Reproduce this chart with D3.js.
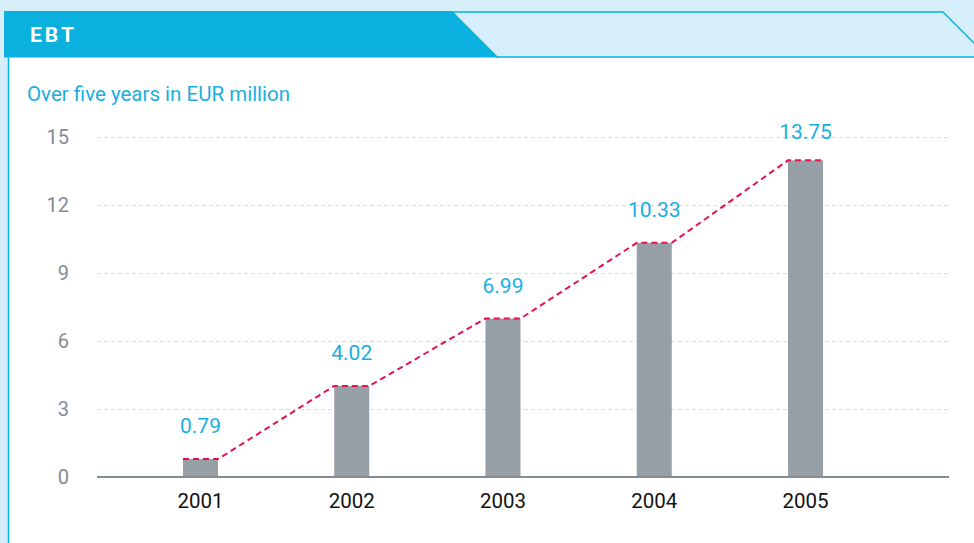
<!DOCTYPE html>
<html>
<head>
<meta charset="utf-8">
<script src="https://cdn.jsdelivr.net/npm/d3@7"></script>
<style>
  body { margin: 0; background: #d5eef9; }
  svg { display: block; font-family: Roboto, "Noto Sans", sans-serif; }
</style>
</head>
<body>
<svg id="chart" width="974" height="543"></svg>
<script>
// EBT over five years, EUR million
var years = ["2001", "2002", "2003", "2004", "2005"];
var ebt = [0.79, 4.02, 6.99, 10.33, 13.75];
// bar heights as drawn in the source (last bar is drawn a bit taller than its label)
var barHeights = [0.79, 4.02, 6.99, 10.33, 13.97];
var yTicks = [0, 3, 6, 9, 12, 15];

var svg = d3.select("#chart"),
    width = +svg.attr("width"),
    height = +svg.attr("height");

var blue = "#0ab0de";

// panel background
svg.append("rect")
    .attr("x", 0).attr("y", 0)
    .attr("width", width).attr("height", height)
    .attr("fill", "#d5eef9");
svg.append("rect")
    .attr("x", 9).attr("y", 57)
    .attr("width", width - 9).attr("height", height - 57)
    .attr("fill", "#fff");
svg.append("line")
    .attr("x1", 8.5).attr("x2", 8.5)
    .attr("y1", 57).attr("y2", height)
    .attr("stroke", blue).attr("stroke-width", 1.5);

// header tab
svg.append("path")
    .attr("d", "M943,12 L988,57 L497,57 L452,12 Z")
    .attr("fill", "#d5eef9")
    .attr("stroke", blue)
    .attr("stroke-width", 1.5);
svg.append("path")
    .attr("d", "M4,11 L452,11 L498,57.5 L4,57.5 Z")
    .attr("fill", blue);
svg.append("text")
    .attr("x", 30).attr("y", 42)
    .attr("fill", "#fff")
    .attr("font-size", 21)
    .attr("font-weight", "bold")
    .attr("letter-spacing", 3)
    .text("EBT");

svg.append("text")
    .attr("x", 27).attr("y", 101)
    .attr("fill", "#1aafe0")
    .attr("font-size", 20.5)
    .text("Over five years in EUR million");

// scales
var x = d3.scalePoint().domain(years).range([200.5, 805.5]);
var y = d3.scaleLinear().domain([0, 15]).range([477, 137]);
var barW = 35;

// grid
svg.append("g")
    .selectAll("line")
    .data(yTicks.filter(function(d) { return d > 0; }))
    .enter().append("line")
    .attr("x1", 97).attr("x2", 949)
    .attr("y1", function(d) { return y(d) + 0.5; })
    .attr("y2", function(d) { return y(d) + 0.5; })
    .attr("stroke", "#d9dadc")
    .attr("stroke-width", 1)
    .attr("stroke-dasharray", "4,3");

// y tick labels
svg.append("g")
    .selectAll("text")
    .data(yTicks)
    .enter().append("text")
    .attr("x", 69)
    .attr("y", function(d) { return y(d); })
    .attr("dy", "0.36em")
    .attr("text-anchor", "end")
    .attr("fill", "#858c94")
    .attr("font-size", 20)
    .text(function(d) { return d; });

var data = years.map(function(d, i) { return { year: d, value: ebt[i], h: barHeights[i] }; });

// bars
svg.append("g")
    .selectAll("rect")
    .data(data)
    .enter().append("rect")
    .attr("x", function(d) { return x(d.year) - barW / 2; })
    .attr("width", barW)
    .attr("y", function(d) { return y(d.h); })
    .attr("height", function(d) { return y(0) - y(d.h); })
    .attr("fill", "#969ea6");

// x axis line
svg.append("line")
    .attr("x1", 97).attr("x2", 949)
    .attr("y1", 477).attr("y2", 477)
    .attr("stroke", "#858c94")
    .attr("stroke-width", 2);

// dashed trend across bar tops
var pts = [];
data.forEach(function(d) {
  pts.push([x(d.year) - barW / 2, y(d.h)]);
  pts.push([x(d.year) + barW / 2, y(d.h)]);
});
svg.append("path")
    .attr("d", d3.line()(pts))
    .attr("fill", "none")
    .attr("stroke", "#e3134f")
    .attr("stroke-width", 2)
    .attr("stroke-dasharray", "6,4");

// value labels
svg.append("g")
    .selectAll("text")
    .data(data)
    .enter().append("text")
    .attr("x", function(d) { return x(d.year); })
    .attr("y", function(d) { return y(d.value) - 26; })
    .attr("text-anchor", "middle")
    .attr("fill", "#1aafe0")
    .attr("font-size", 21)
    .text(function(d) { return d3.format(".2f")(d.value); });

// year labels
svg.append("g")
    .selectAll("text")
    .data(years)
    .enter().append("text")
    .attr("x", function(d) { return x(d); })
    .attr("y", 508)
    .attr("text-anchor", "middle")
    .attr("fill", "#111")
    .attr("font-size", 20.5)
    .text(function(d) { return d; });
</script>
</body>
</html>
